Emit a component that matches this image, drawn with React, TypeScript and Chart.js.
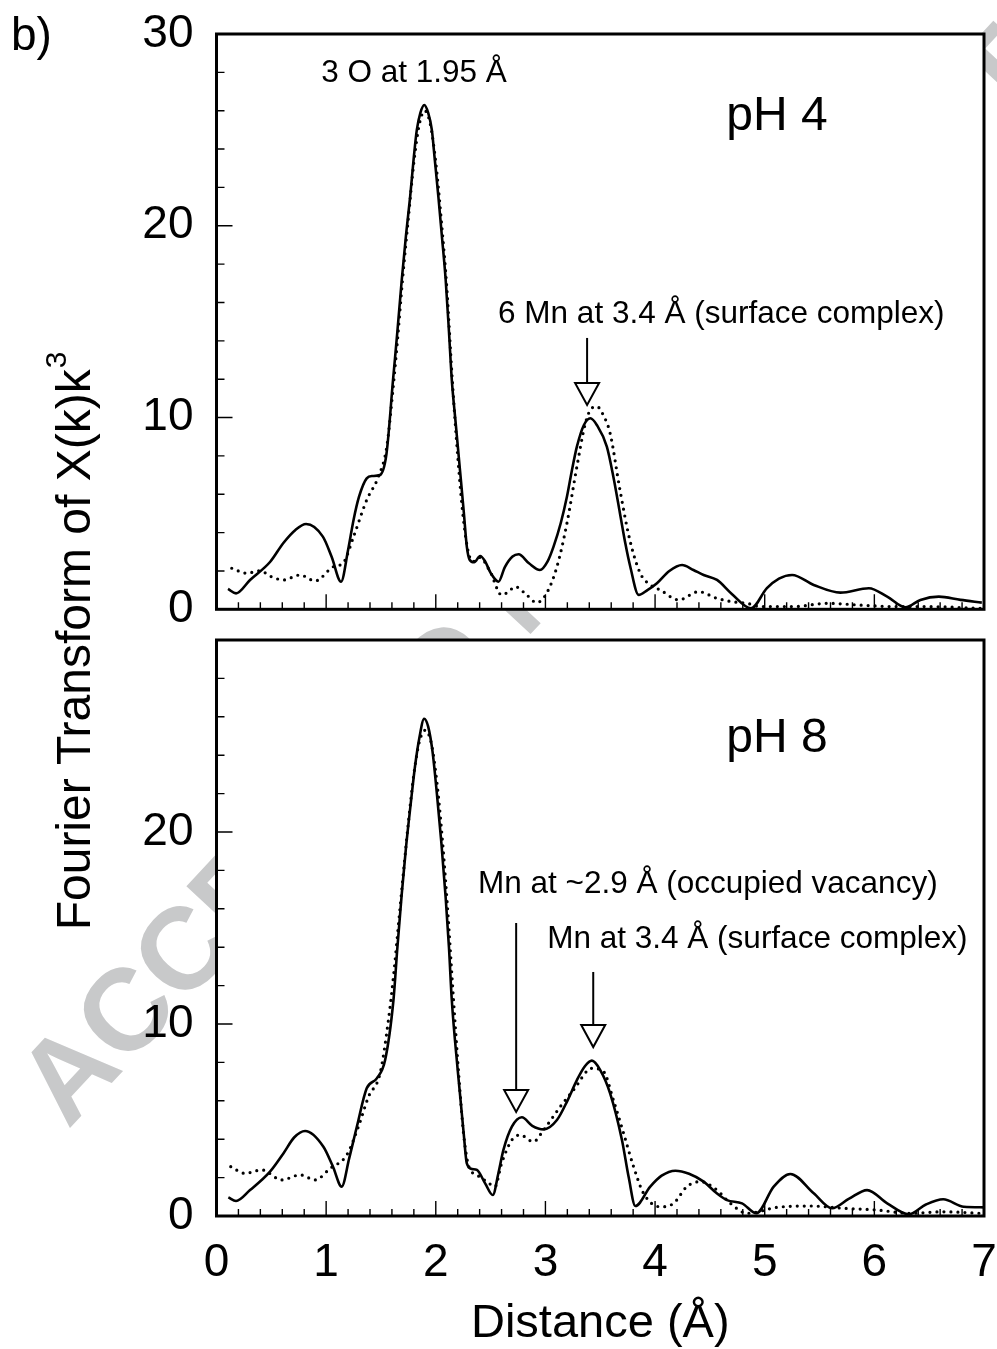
import React, { useEffect, useRef } from "react";
import { Chart, registerables } from "chart.js";

Chart.register(...registerables);

const FONT = '"Liberation Sans", Arial, Helvetica, sans-serif';
const W = 997;
const H = 1349;

// ---------- axis ticks ----------
const xTickValues = [0, 1, 2, 3, 4, 5, 6, 7];
const yTickValuesTop = [0, 10, 20, 30];
const yTickValuesBottom = [0, 10, 20];
const xMinorStep = 0.2;
const yMinorStep = 2;

// ---------- pH 4 : experimental (solid) ----------
const ph4DataR = [
  0.105, 0.178, 0.306, 0.49, 0.61, 0.72, 0.817, 0.97, 1.05, 1.136, 1.2, 1.25, 1.3, 1.37, 1.42, 1.49,
  1.55, 1.61, 1.65, 1.69, 1.73, 1.766, 1.8, 1.827, 1.86, 1.895, 1.93, 1.964, 1.99, 2.024, 2.055, 2.09,
  2.12, 2.146, 2.18, 2.22, 2.255, 2.283, 2.31, 2.35, 2.405, 2.45, 2.5, 2.572, 2.63, 2.7, 2.755, 2.85,
  2.95, 3.02, 3.074, 3.14, 3.196, 3.24, 3.287, 3.35, 3.41, 3.47, 3.56, 3.62, 3.68, 3.73, 3.774, 3.85,
  3.93, 4.017, 4.13, 4.246, 4.35, 4.443, 4.565, 4.7, 4.875, 5.02, 5.13, 5.25, 5.447, 5.69, 5.95, 6.117,
  6.284, 6.42, 6.588, 6.786, 6.98,
];
const ph4DataFT = [
  1.06, 0.83, 1.53, 2.48, 3.46, 4.14, 4.45, 3.79, 2.74, 1.44, 3.09, 4.66, 5.87, 6.83, 6.95, 7.0,
  8.1, 11.96, 14.5, 17.2, 19.6, 21.5, 23.6, 25.0, 25.9, 26.3, 25.9, 25.0, 23.5, 21.5, 19.5, 17.2,
  14.5, 11.96, 9.8, 7.3, 5.1, 3.27, 2.57, 2.45, 2.78, 2.5, 1.9, 1.44, 2.2, 2.75, 2.87, 2.4,
  2.05, 2.5, 3.27, 4.5, 5.87, 7.2, 8.48, 9.6, 9.96, 9.6, 8.48, 6.9, 5.0, 3.4, 2.22, 0.75,
  1.0, 1.36, 2.0, 2.31, 2.05, 1.79, 1.53, 0.8, 0.05, 1.1, 1.6, 1.79, 1.27, 0.87, 1.1, 0.66,
  0.1, 0.49, 0.66, 0.49, 0.35,
];

// ---------- pH 4 : fit (dotted) ----------
const ph4FitR = [
  0.139, 0.276, 0.397, 0.5, 0.61, 0.762, 0.9, 1.066, 1.157, 1.25, 1.37, 1.477, 1.553, 1.61, 1.65, 1.7,
  1.75, 1.8, 1.85, 1.9, 1.95, 2.0, 2.05, 2.1, 2.15, 2.2, 2.25, 2.3, 2.35, 2.4, 2.496, 2.6,
  2.66, 2.724, 2.815, 2.92, 3.01, 3.105, 3.196, 3.287, 3.36, 3.41, 3.47, 3.53, 3.59, 3.68, 3.77, 3.865,
  3.95, 4.05, 4.215, 4.397, 4.565, 4.7, 4.84, 4.96, 5.26, 5.57, 5.87, 6.18, 6.48, 6.97,
];
const ph4FitFT = [
  2.14, 1.88, 2.01, 1.7, 1.53, 1.79, 1.48, 2.22, 2.43, 3.79, 5.7, 6.92, 8.48, 11.5, 14.0, 17.4,
  20.4, 23.3, 25.3, 26.0, 25.3, 23.3, 20.3, 16.8, 12.0, 8.0, 4.8, 2.9, 2.5, 2.7, 1.96, 0.75,
  0.9, 1.18, 0.83, 0.35, 0.83, 2.22, 4.48, 7.44, 9.6, 10.4, 10.57, 10.1, 9.18, 6.22, 3.61, 1.88,
  1.3, 1.0, 0.49, 0.92, 0.57, 0.4, 0.31, 0.14, 0.14, 0.31, 0.22, 0.14, 0.14, 0.05,
];

// ---------- pH 8 : experimental (solid) ----------
const ph8DataR = [
  0.108, 0.178, 0.306, 0.488, 0.61, 0.71, 0.808, 0.975, 1.06, 1.142, 1.21, 1.28, 1.37, 1.462, 1.538, 1.614,
  1.65, 1.69, 1.73, 1.77, 1.81, 1.85, 1.894, 1.93, 1.97, 2.01, 2.05, 2.09, 2.12, 2.146, 2.2, 2.253,
  2.283, 2.33, 2.375, 2.45, 2.52, 2.57, 2.617, 2.694, 2.785, 2.88, 2.983, 3.105, 3.2, 3.287, 3.36, 3.424,
  3.5, 3.59, 3.698, 3.76, 3.82, 3.956, 4.06, 4.185, 4.31, 4.443, 4.56, 4.656, 4.793, 4.924, 5.082, 5.234,
  5.447, 5.614, 5.77, 5.934, 6.117, 6.314, 6.47, 6.628, 6.816, 7.0,
];
const ph8DataFT = [
  0.97, 0.78, 1.35, 2.31, 3.26, 4.1, 4.43, 3.61, 2.6, 1.53, 3.0, 4.65, 6.65, 7.17, 8.13, 11.25,
  14.0, 16.8, 19.3, 21.4, 23.4, 24.9, 25.9, 25.5, 24.2, 22.0, 19.5, 16.6, 14.0, 11.25, 7.6, 4.4,
  2.74, 2.45, 2.4, 1.7, 1.09, 2.2, 3.44, 4.65, 5.14, 4.7, 4.51, 5.0, 6.0, 7.08, 7.8, 8.09,
  7.6, 6.39, 3.96, 2.0, 0.52, 1.53, 2.1, 2.36, 2.2, 1.79, 1.2, 0.83, 0.66, 0.14, 1.53, 2.19,
  1.18, 0.4, 0.9, 1.35, 0.66, 0.09, 0.6, 0.87, 0.48, 0.45,
];

// ---------- pH 8 : fit (dotted) ----------
const ph8FitR = [
  0.13, 0.26, 0.412, 0.595, 0.762, 0.9, 1.036, 1.188, 1.294, 1.386, 1.492, 1.568, 1.62, 1.66, 1.7, 1.75,
  1.8, 1.85, 1.905, 1.96, 2.01, 2.06, 2.11, 2.16, 2.21, 2.253, 2.3, 2.375, 2.466, 2.54, 2.6, 2.694,
  2.77, 2.89, 2.983, 3.135, 3.256, 3.424, 3.53, 3.62, 3.713, 3.804, 3.895, 4.048, 4.169, 4.29, 4.413, 4.565,
  4.687, 4.84, 5.113, 5.417, 5.72, 6.025, 6.33, 6.633, 6.968,
];
const ph8FitFT = [
  2.57, 2.22, 2.4, 1.88, 2.14, 1.88, 2.48, 3.18, 4.65, 6.21, 7.43, 10.2, 12.8, 15.2, 17.6, 20.5,
  23.0, 24.7, 25.3, 24.6, 22.6, 19.6, 15.8, 11.4, 7.3, 4.31, 2.6, 2.14, 1.79, 1.53, 2.74, 3.96,
  4.22, 3.87, 4.48, 5.69, 6.56, 7.69, 7.52, 6.04, 4.31, 2.57, 1.18, 0.48, 0.66, 1.53, 1.79, 1.35,
  0.66, 0.14, 0.45, 0.52, 0.4, 0.31, 0.14, 0.22, 0.14,
];

// ---------- annotations ----------
const ph4Labels = [
  { text: "3 O at 1.95 \u00C5", x: 1.802, y: 27.52, size: 31.5 },
  { text: "pH 4", x: 5.111, y: 25.0, size: 48 },
  { text: "6 Mn at 3.4 \u00C5 (surface complex)", x: 4.604, y: 14.92, size: 31.5 },
];
const ph4Arrows = [{ x: 3.38, yTop: 14.15, yTip: 10.66 }];

const ph8Labels = [
  { text: "pH 8", x: 5.111, y: 24.17, size: 48 },
  { text: "Mn at ~2.9 \u00C5 (occupied vacancy)", x: 4.481, y: 16.82, size: 31.5 },
  { text: "Mn at 3.4 \u00C5 (surface complex)", x: 4.933, y: 13.96, size: 31.5 },
];
const ph8Arrows = [
  { x: 2.733, yTop: 15.26, yTip: 5.42 },
  { x: 3.436, yTop: 12.71, yTip: 8.8 },
];

const toPoints = (xs: number[], ys: number[]) => xs.map((x, i) => ({ x, y: ys[i] }));

const noPad = (s: any) => {
  s.paddingTop = 0;
  s.paddingBottom = 0;
  s.paddingLeft = 0;
  s.paddingRight = 0;
};

const decorPlugin = {
  id: "decor",
  beforeDraw(chart: any) {
    const { ctx, chartArea: a } = chart;
    ctx.save();
    ctx.fillStyle = "#ffffff";
    ctx.fillRect(a.left, a.top, a.right - a.left, a.bottom - a.top);
    ctx.restore();
  },
  beforeDatasetsDraw(chart: any) {
    const { ctx, chartArea: a, scales } = chart;
    const xs = scales.x;
    const ys = scales.y;
    ctx.save();
    ctx.strokeStyle = "#000";
    ctx.lineWidth = 1.4;
    ctx.beginPath();
    const nX = Math.round((xs.max - xs.min) / xMinorStep);
    for (let i = 0; i <= nX; i++) {
      const v = xs.min + i * xMinorStep;
      const px = xs.getPixelForValue(v);
      const len = i % 5 === 0 ? 15 : 7;
      ctx.moveTo(px, a.bottom);
      ctx.lineTo(px, a.bottom - len);
    }
    const nY = Math.round((ys.max - ys.min) / yMinorStep);
    for (let i = 0; i <= nY; i++) {
      const v = ys.min + i * yMinorStep;
      const py = ys.getPixelForValue(v);
      const len = i % 5 === 0 ? 16 : 8;
      ctx.moveTo(a.left, py);
      ctx.lineTo(a.left + len, py);
    }
    ctx.stroke();
    ctx.restore();
  },
  afterDraw(chart: any, _args: any, opts: any) {
    const { ctx, chartArea: a, scales } = chart;
    const xs = scales.x;
    const ys = scales.y;
    ctx.save();
    // frame
    ctx.strokeStyle = "#000";
    ctx.lineWidth = 3;
    ctx.strokeRect(a.left, a.top, a.right - a.left, a.bottom - a.top);
    // labels
    ctx.fillStyle = "#000";
    ctx.textAlign = "center";
    ctx.textBaseline = "alphabetic";
    (opts.labels || []).forEach((l: any) => {
      ctx.font = `${l.size}px ${FONT}`;
      ctx.fillText(l.text, xs.getPixelForValue(l.x), ys.getPixelForValue(l.y));
    });
    // arrows
    ctx.lineWidth = 2;
    (opts.arrows || []).forEach((ar: any) => {
      const px = xs.getPixelForValue(ar.x);
      const top = ys.getPixelForValue(ar.yTop);
      const tip = ys.getPixelForValue(ar.yTip);
      const th = 22;
      const hw = 12;
      ctx.beginPath();
      ctx.moveTo(px, top);
      ctx.lineTo(px, tip - th);
      ctx.stroke();
      ctx.beginPath();
      ctx.moveTo(px - hw, tip - th);
      ctx.lineTo(px + hw, tip - th);
      ctx.lineTo(px, tip);
      ctx.closePath();
      ctx.fillStyle = "#fff";
      ctx.fill();
      ctx.stroke();
    });
    // outer texts (only on the chart that carries them)
    if (opts.outer) {
      ctx.fillStyle = "#000";
      ctx.textAlign = "left";
      ctx.font = `46px ${FONT}`;
      ctx.fillText("b)", 11, 50);
      ctx.textAlign = "center";
      ctx.font = `47px ${FONT}`;
      ctx.fillText("Distance (\u00C5)", (a.left + a.right) / 2, 1337);
      const main = "Fourier Transform of X(k)k";
      ctx.font = `48px ${FONT}`;
      const wMain = ctx.measureText(main).width;
      ctx.font = `30px ${FONT}`;
      const wSup = ctx.measureText("3").width;
      const total = wMain + wSup + 1;
      ctx.translate(90, 641);
      ctx.rotate(-Math.PI / 2);
      ctx.textAlign = "left";
      ctx.font = `48px ${FONT}`;
      ctx.fillText(main, -total / 2, 0);
      ctx.font = `30px ${FONT}`;
      ctx.fillText("3", -total / 2 + wMain + 1, -24);
    }
    ctx.restore();
  },
};

const solidStyle = {
  borderColor: "#000",
  borderWidth: 2.6,
  pointRadius: 0,
  fill: false,
  cubicInterpolationMode: "monotone" as const,
};
const dottedStyle = {
  borderColor: "#000",
  borderWidth: 3.2,
  borderDash: [0, 7],
  borderCapStyle: "round" as const,
  pointRadius: 0,
  fill: false,
  cubicInterpolationMode: "monotone" as const,
};

function makeConfig(panel: "top" | "bottom"): any {
  const isTop = panel === "top";
  const yTicks = isTop ? yTickValuesTop : yTickValuesBottom;
  return {
    type: "line",
    data: {
      datasets: isTop
        ? [
            { ...solidStyle, data: toPoints(ph4DataR, ph4DataFT) },
            { ...dottedStyle, data: toPoints(ph4FitR, ph4FitFT) },
          ]
        : [
            { ...solidStyle, data: toPoints(ph8DataR, ph8DataFT) },
            { ...dottedStyle, data: toPoints(ph8FitR, ph8FitFT) },
          ],
    },
    options: {
      animation: false,
      responsive: false,
      devicePixelRatio: 1,
      events: [],
      layout: {
        padding: isTop
          ? { left: 0, top: 34, right: 13, bottom: H - 609.3 }
          : { left: 0, top: 640, right: 13, bottom: 0 },
      },
      plugins: {
        legend: { display: false },
        tooltip: { enabled: false },
        decor: {
          labels: isTop ? ph4Labels : ph8Labels,
          arrows: isTop ? ph4Arrows : ph8Arrows,
          outer: !isTop,
        },
      },
      scales: {
        x: {
          type: "linear",
          min: 0,
          max: 7,
          afterBuildTicks: (s: any) => {
            s.ticks = xTickValues.map((v) => ({ value: v }));
          },
          ticks: {
            display: !isTop,
            color: "#000",
            font: { family: FONT, size: 46 },
            padding: 20,
            maxRotation: 0,
            autoSkip: false,
          },
          grid: { display: false, drawTicks: false },
          border: { display: false },
          afterFit: (s: any) => {
            s.height = isTop ? 0 : H - 1216;
            noPad(s);
          },
        },
        y: {
          type: "linear",
          min: 0,
          max: 30,
          afterBuildTicks: (s: any) => {
            s.ticks = yTicks.map((v) => ({ value: v }));
          },
          ticks: {
            color: "#000",
            font: { family: FONT, size: 46 },
            padding: 23,
          },
          grid: { display: false, drawTicks: false },
          border: { display: false },
          afterFit: (s: any) => {
            s.width = 216.5;
            noPad(s);
          },
        },
      },
    },
    plugins: [decorPlugin],
  };
}

export default function App() {
  const wmRef = useRef<HTMLCanvasElement | null>(null);
  const topRef = useRef<HTMLCanvasElement | null>(null);
  const botRef = useRef<HTMLCanvasElement | null>(null);

  useEffect(() => {
    const wm = wmRef.current;
    if (wm) {
      const c = wm.getContext("2d");
      if (c) {
        c.clearRect(0, 0, W, H);
        c.save();
        c.translate(68, 1130);
        c.rotate((-47 * Math.PI) / 180);
        c.fillStyle = "#c8c9ca";
        c.font = `bold 116px ${FONT}`;
        c.textBaseline = "alphabetic";
        c.fillText("ACCEPTED MANUSCRIPT", 0, 0);
        c.restore();
      }
    }
    const top = topRef.current ? new Chart(topRef.current, makeConfig("top")) : null;
    const bot = botRef.current ? new Chart(botRef.current, makeConfig("bottom")) : null;
    return () => {
      top?.destroy();
      bot?.destroy();
    };
  }, []);

  const cs: React.CSSProperties = { position: "absolute", left: 0, top: 0, width: W, height: H };
  return (
    <div style={{ position: "absolute", left: 0, top: 0, width: W, height: H, background: "#fff", overflow: "hidden" }}>
      <canvas ref={wmRef} width={W} height={H} style={cs} />
      <canvas ref={topRef} width={W} height={H} style={cs} />
      <canvas ref={botRef} width={W} height={H} style={cs} />
    </div>
  );
}
